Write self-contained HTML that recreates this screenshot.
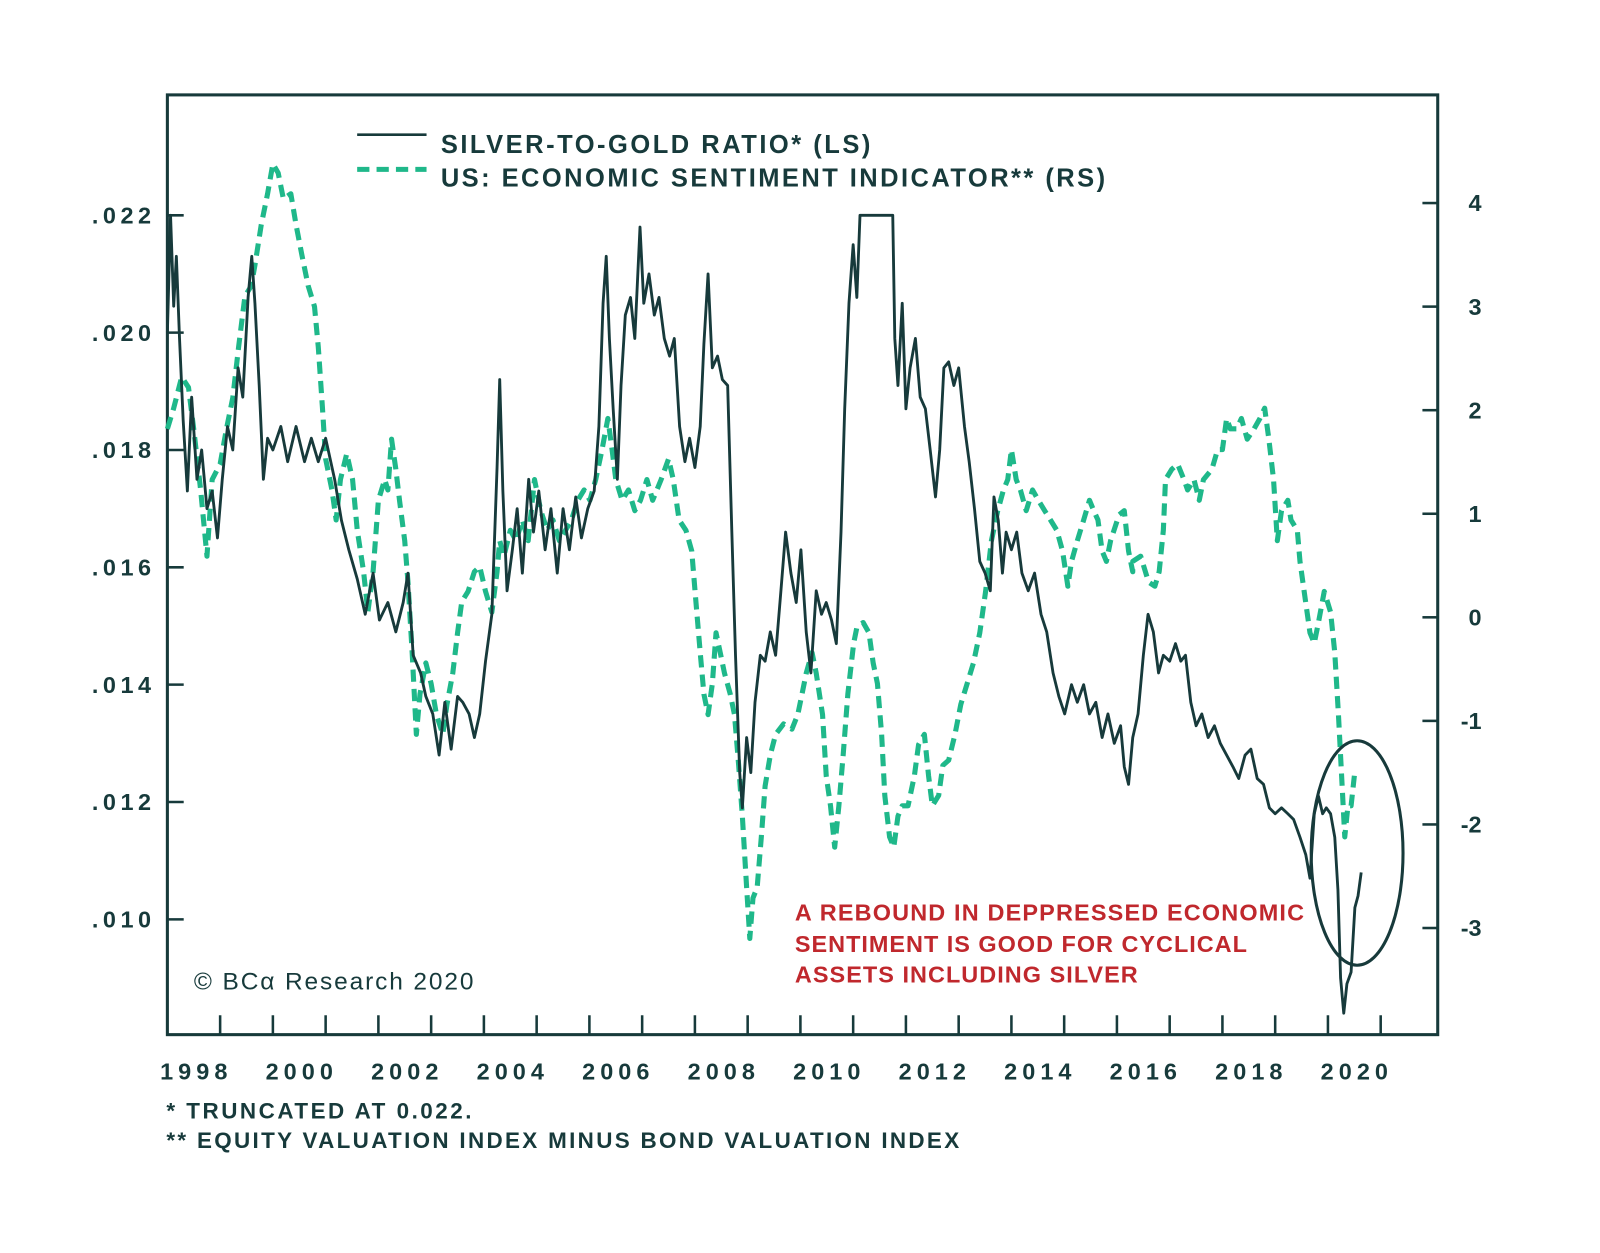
<!DOCTYPE html>
<html><head><meta charset="utf-8"><style>
html,body{margin:0;padding:0;background:#fff;}
svg{display:block;}
text{font-family:"Liberation Sans",sans-serif;}
</style></head><body>
<svg id="chart" width="1600" height="1253" viewBox="0 0 1568 1228" xmlns="http://www.w3.org/2000/svg">
<rect x="164" y="93" width="1245" height="921" fill="none" stroke="#173a3b" stroke-width="3"/>
<g id="axes"></g>
<g id="series"></g>
<g>
<line x1="350" y1="132" x2="418" y2="132" stroke="#173a3b" stroke-width="2.5"/>
<line x1="350" y1="166" x2="418" y2="166" stroke="#1fb88a" stroke-width="5" stroke-dasharray="12 7"/>
<text x="432" y="150" font-size="25" font-weight="bold" fill="#173a3b" textLength="421" lengthAdjust="spacing">SILVER-TO-GOLD RATIO* (LS)</text>
<text x="432" y="183" font-size="25" font-weight="bold" fill="#173a3b" textLength="651" lengthAdjust="spacing">US: ECONOMIC SENTIMENT INDICATOR** (RS)</text>
</g>
<ellipse cx="1330" cy="836" rx="45" ry="110" fill="none" stroke="#173a3b" stroke-width="3"/>
<g font-size="23" font-weight="bold" fill="#c0282d">
<text x="779" y="902" textLength="499" lengthAdjust="spacing">A REBOUND IN DEPPRESSED ECONOMIC</text>
<text x="779" y="933" textLength="443" lengthAdjust="spacing">SENTIMENT IS GOOD FOR CYCLICAL</text>
<text x="779" y="963" textLength="336" lengthAdjust="spacing">ASSETS INCLUDING SILVER</text>
</g>
<text x="190" y="970" font-size="24" fill="#173a3b" font-family="Liberation Serif, serif" textLength="274" lengthAdjust="spacing">© BCα Research 2020</text>
<text x="163" y="1096" font-size="22" font-weight="bold" fill="#173a3b" textLength="299" lengthAdjust="spacing">* TRUNCATED AT 0.022.</text>
<text x="163" y="1125" font-size="22" font-weight="bold" fill="#173a3b" textLength="777" lengthAdjust="spacing">** EQUITY VALUATION INDEX MINUS BOND VALUATION INDEX</text>
</svg>
<script>
const leftTicks=[0.010,0.012,0.014,0.016,0.018,0.020,0.022];
const leftLabels=[".010",".012",".014",".016",".018",".020",".022"];
const rightTicks=[-3,-2,-1,0,1,2,3,4];
const yearLabels=[1998,2000,2002,2004,2006,2008,2010,2012,2014,2016,2018,2020];
const silverT=[1998.0,1998.06,1998.12,1998.17,1998.23,1998.3,1998.38,1998.46,1998.56,1998.65,1998.75,1998.85,1998.95,1999.04,1999.14,1999.24,1999.34,1999.43,1999.53,1999.6,1999.66,1999.74,1999.82,1999.9,2000.0,2000.15,2000.28,2000.44,2000.6,2000.73,2000.86,2001.0,2001.17,2001.3,2001.44,2001.6,2001.75,2001.9,2002.02,2002.18,2002.33,2002.47,2002.56,2002.66,2002.8,2002.9,2003.03,2003.15,2003.26,2003.38,2003.5,2003.6,2003.72,2003.82,2003.92,2004.03,2004.15,2004.25,2004.3,2004.36,2004.44,2004.54,2004.63,2004.73,2004.85,2004.94,2005.04,2005.16,2005.27,2005.39,2005.5,2005.62,2005.74,2005.85,2005.97,2006.09,2006.18,2006.26,2006.32,2006.38,2006.45,2006.53,2006.6,2006.68,2006.78,2006.86,2006.96,2007.03,2007.13,2007.23,2007.32,2007.42,2007.52,2007.61,2007.71,2007.81,2007.9,2008.0,2008.1,2008.17,2008.25,2008.33,2008.43,2008.52,2008.62,2008.7,2008.77,2008.85,2008.9,2008.98,2009.06,2009.14,2009.24,2009.33,2009.43,2009.53,2009.63,2009.72,2009.82,2009.92,2010.01,2010.11,2010.2,2010.3,2010.4,2010.49,2010.59,2010.68,2010.77,2010.84,2010.92,2011.0,2011.07,2011.13,2011.75,2011.79,2011.85,2011.93,2012.0,2012.08,2012.18,2012.27,2012.37,2012.46,2012.56,2012.64,2012.72,2012.81,2012.91,2013.0,2013.11,2013.2,2013.3,2013.4,2013.5,2013.6,2013.67,2013.75,2013.83,2013.9,2014.0,2014.1,2014.2,2014.32,2014.44,2014.56,2014.67,2014.79,2014.9,2015.01,2015.14,2015.25,2015.37,2015.48,2015.6,2015.72,2015.83,2015.95,2016.07,2016.14,2016.22,2016.3,2016.4,2016.5,2016.59,2016.69,2016.79,2016.88,2017.0,2017.11,2017.21,2017.3,2017.4,2017.5,2017.61,2017.73,2017.85,2017.96,2018.08,2018.2,2018.31,2018.43,2018.54,2018.66,2018.78,2018.89,2019.0,2019.12,2019.24,2019.35,2019.47,2019.58,2019.66,2019.74,2019.82,2019.9,2019.97,2020.05,2020.13,2020.19,2020.24,2020.3,2020.36,2020.44,2020.51,2020.57,2020.63];
const silverV=[.0200,.0220,.02045,.0213,.0199,.0185,.0173,.0189,.0175,.0180,.0170,.0173,.0165,.0175,.0184,.0180,.0194,.0189,.0206,.0213,.0205,.0191,.0175,.0182,.0180,.0184,.0178,.0184,.0178,.0182,.0178,.0182,.0175,.0168,.0163,.0158,.0152,.0159,.0151,.0154,.0149,.0154,.0159,.0145,.0142,.0138,.0135,.0128,.0137,.0129,.0138,.0137,.0135,.0131,.0135,.0144,.0152,.0177,.0192,.0173,.0156,.0163,.0170,.0159,.0175,.0166,.0173,.0163,.0170,.0159,.0170,.0163,.0172,.0165,.0170,.0173,.0184,.0205,.0213,.0199,.0187,.0175,.0191,.0203,.0206,.0199,.0218,.0205,.0210,.0203,.0206,.0199,.0196,.0199,.0184,.0178,.0182,.0177,.0184,.0198,.0210,.0194,.0196,.0192,.0191,.0166,.0145,.0125,.0119,.0131,.0125,.0137,.0145,.0144,.0149,.0145,.0156,.0166,.0159,.0154,.0163,.0149,.0142,.0156,.0152,.0154,.0151,.0147,.0166,.0187,.0205,.0215,.0206,.0220,.0220,.0199,.0191,.0205,.0187,.0194,.0199,.0189,.0187,.0180,.0172,.0180,.0194,.0195,.0191,.0194,.0184,.0178,.0170,.0161,.0159,.0156,.0172,.0168,.0159,.0166,.0163,.0166,.0159,.0156,.0159,.0152,.0149,.0142,.0138,.0135,.0140,.0137,.0140,.0135,.0137,.0131,.0135,.0130,.0133,.0126,.0123,.0131,.0135,.0145,.0152,.0149,.0142,.0145,.0144,.0147,.0144,.0145,.0137,.0133,.0135,.0131,.0133,.0130,.0128,.0126,.0124,.0128,.0129,.0124,.0123,.0119,.0118,.0119,.0118,.0117,.0114,.0111,.0107,.0118,.0121,.0118,.0119,.0118,.0114,.0105,.0090,.0084,.0089,.0091,.0102,.0104,.0108];
const sentT=[1998.0,1998.12,1998.27,1998.4,1998.5,1998.63,1998.75,1998.85,1999.0,1999.12,1999.24,1999.35,1999.47,1999.59,1999.66,1999.78,1999.9,2000.0,2000.1,2000.2,2000.34,2000.44,2000.55,2000.67,2000.79,2000.86,2000.94,2001.0,2001.12,2001.2,2001.28,2001.4,2001.51,2001.6,2001.72,2001.8,2001.9,2002.0,2002.12,2002.18,2002.25,2002.33,2002.4,2002.5,2002.56,2002.64,2002.72,2002.79,2002.9,2003.0,2003.1,2003.22,2003.3,2003.41,2003.5,2003.58,2003.7,2003.82,2003.92,2004.03,2004.15,2004.25,2004.3,2004.38,2004.5,2004.61,2004.73,2004.84,2004.96,2005.08,2005.2,2005.31,2005.43,2005.55,2005.66,2005.78,2005.9,2006.01,2006.12,2006.24,2006.35,2006.43,2006.5,2006.62,2006.74,2006.86,2006.97,2007.09,2007.2,2007.36,2007.5,2007.59,2007.7,2007.83,2007.94,2008.02,2008.1,2008.17,2008.25,2008.33,2008.4,2008.48,2008.56,2008.67,2008.75,2008.83,2008.9,2008.98,2009.04,2009.1,2009.18,2009.26,2009.33,2009.43,2009.53,2009.68,2009.84,2009.95,2010.03,2010.11,2010.22,2010.3,2010.42,2010.49,2010.57,2010.65,2010.73,2010.81,2010.9,2011.01,2011.07,2011.19,2011.3,2011.38,2011.46,2011.54,2011.6,2011.69,2011.77,2011.85,2011.93,2012.04,2012.16,2012.24,2012.35,2012.43,2012.5,2012.62,2012.7,2012.81,2012.93,2013.04,2013.16,2013.28,2013.4,2013.51,2013.62,2013.74,2013.85,2013.93,2014.0,2014.09,2014.17,2014.28,2014.4,2014.51,2014.63,2014.74,2014.86,2014.97,2015.07,2015.14,2015.25,2015.37,2015.48,2015.56,2015.64,2015.72,2015.8,2015.88,2016.04,2016.14,2016.22,2016.3,2016.3,2016.45,2016.6,2016.72,2016.8,2016.88,2016.92,2017.04,2017.15,2017.27,2017.34,2017.46,2017.56,2017.64,2017.8,2017.91,2018.0,2018.08,2018.15,2018.27,2018.36,2018.47,2018.6,2018.71,2018.8,2018.88,2018.97,2019.04,2019.12,2019.24,2019.3,2019.42,2019.47,2019.55,2019.66,2019.74,2019.82,2019.93,2020.05,2020.13,2020.2,2020.26,2020.32,2020.38,2020.44,2020.5];
const sentV=[1.82,2.02,2.32,2.22,1.82,1.23,0.59,1.33,1.48,1.82,2.12,2.61,3.10,3.2,3.40,3.79,4.09,4.38,4.29,4.04,4.09,3.79,3.5,3.2,3.0,2.61,2.02,1.53,1.23,0.94,1.33,1.58,1.33,0.84,0.44,0.05,0.44,1.13,1.33,1.23,1.72,1.43,1.13,0.74,0.34,-0.34,-1.13,-0.74,-0.44,-0.64,-0.94,-1.13,-0.84,-0.54,-0.15,0.15,0.25,0.44,0.49,0.25,0.05,0.44,0.74,0.59,0.84,0.74,0.94,0.74,1.33,1.03,0.84,0.94,0.74,0.84,0.94,1.13,1.23,1.13,1.33,1.62,1.92,1.62,1.33,1.13,1.23,1.03,1.13,1.33,1.13,1.33,1.53,1.33,0.94,0.84,0.64,0.15,-0.34,-0.74,-0.94,-0.64,-0.15,-0.34,-0.54,-0.74,-0.94,-1.43,-1.92,-2.61,-3.1,-2.71,-2.61,-2.12,-1.63,-1.33,-1.13,-1.03,-1.08,-0.94,-0.74,-0.54,-0.34,-0.54,-0.94,-1.53,-1.82,-2.22,-1.82,-1.33,-0.74,-0.25,-0.1,-0.05,-0.15,-0.44,-0.64,-1.13,-1.72,-2.12,-2.22,-1.92,-1.82,-1.82,-1.53,-1.23,-1.13,-1.53,-1.82,-1.72,-1.43,-1.38,-1.13,-0.84,-0.64,-0.44,-0.15,0.25,0.74,1.03,1.23,1.33,1.62,1.33,1.23,1.03,1.23,1.13,1.03,0.94,0.84,0.64,0.3,0.54,0.74,0.94,1.13,1.03,0.94,0.64,0.54,0.74,0.99,1.03,0.64,0.44,0.54,0.59,0.34,0.3,0.44,0.84,1.33,1.43,1.48,1.33,1.23,1.33,1.13,1.33,1.43,1.62,1.62,1.92,1.82,1.82,1.92,1.72,1.82,1.92,2.02,1.72,1.33,0.74,1.03,1.13,0.94,0.84,0.54,0.25,-0.15,-0.25,-0.05,0.25,0.05,-0.34,-0.94,-1.53,-2.12,-1.82,-1.82,-1.53];
const X0=164,XS=51.7;
function xScale(t){return X0+(t-1998)*XS;}
function yLeft(v){return 211+(0.022-v)/0.002*115;}
function yRight(v){return 605-v*101.5;}
const NS="http://www.w3.org/2000/svg";
const axes=document.getElementById('axes');
const series=document.getElementById('series');
function mk(tag,attrs,parent){const e=document.createElementNS(NS,tag);for(const k in attrs)e.setAttribute(k,attrs[k]);parent.appendChild(e);return e;}
leftTicks.forEach((v,i)=>{
  const y=yLeft(v);
  const l=mk('line',{x1:164,x2:180,y1:y,y2:y,stroke:'#173a3b','stroke-width':2.5},axes);
  
  
  const t=mk('text',{x:90,y:y+8,'font-size':23,'font-weight':'bold',fill:'#173a3b',textLength:58,lengthAdjust:'spacing'},axes);
  
  
  t.textContent=leftLabels[i];
});
rightTicks.forEach(v=>{
  const y=yRight(v);
  const l=mk('line',{x1:1394,x2:1409,y1:y,y2:y,stroke:'#173a3b','stroke-width':2.5},axes);
  
  
  const t=mk('text',{x:1452,y:y+8,'text-anchor':'end','font-size':23,'font-weight':'bold',fill:'#173a3b'},axes);
  
  
  t.textContent=String(v);
});
for(let yr=1999;yr<=2021;yr++){
  const x=xScale(yr);
  const l=mk('line',{x1:x,x2:x,y1:1014,y2:995,stroke:'#173a3b','stroke-width':2.5},axes);
  
  
}
yearLabels.forEach(yr=>{
  const t=mk('text',{x:xScale(yr+0.5)-33,y:1058,'font-size':23,'font-weight':'bold',fill:'#173a3b',textLength:66,lengthAdjust:'spacing'},axes);
  
  
  t.textContent=String(yr);
});
function pathFrom(ts,vs,yf){return ts.map((t,i)=>(i?'L':'M')+xScale(t).toFixed(1)+','+yf(vs[i]).toFixed(1)).join(' ');}
const sp=mk('path',{d:pathFrom(sentT,sentV,yRight),fill:'none',stroke:'#1fb88a','stroke-width':5,'stroke-dasharray':'12 7','stroke-linejoin':'round'},series);


const gp=mk('path',{d:pathFrom(silverT,silverV,yLeft),fill:'none',stroke:'#173a3b','stroke-width':2.8,'stroke-linejoin':'round'},series);


</script>
</body></html>
